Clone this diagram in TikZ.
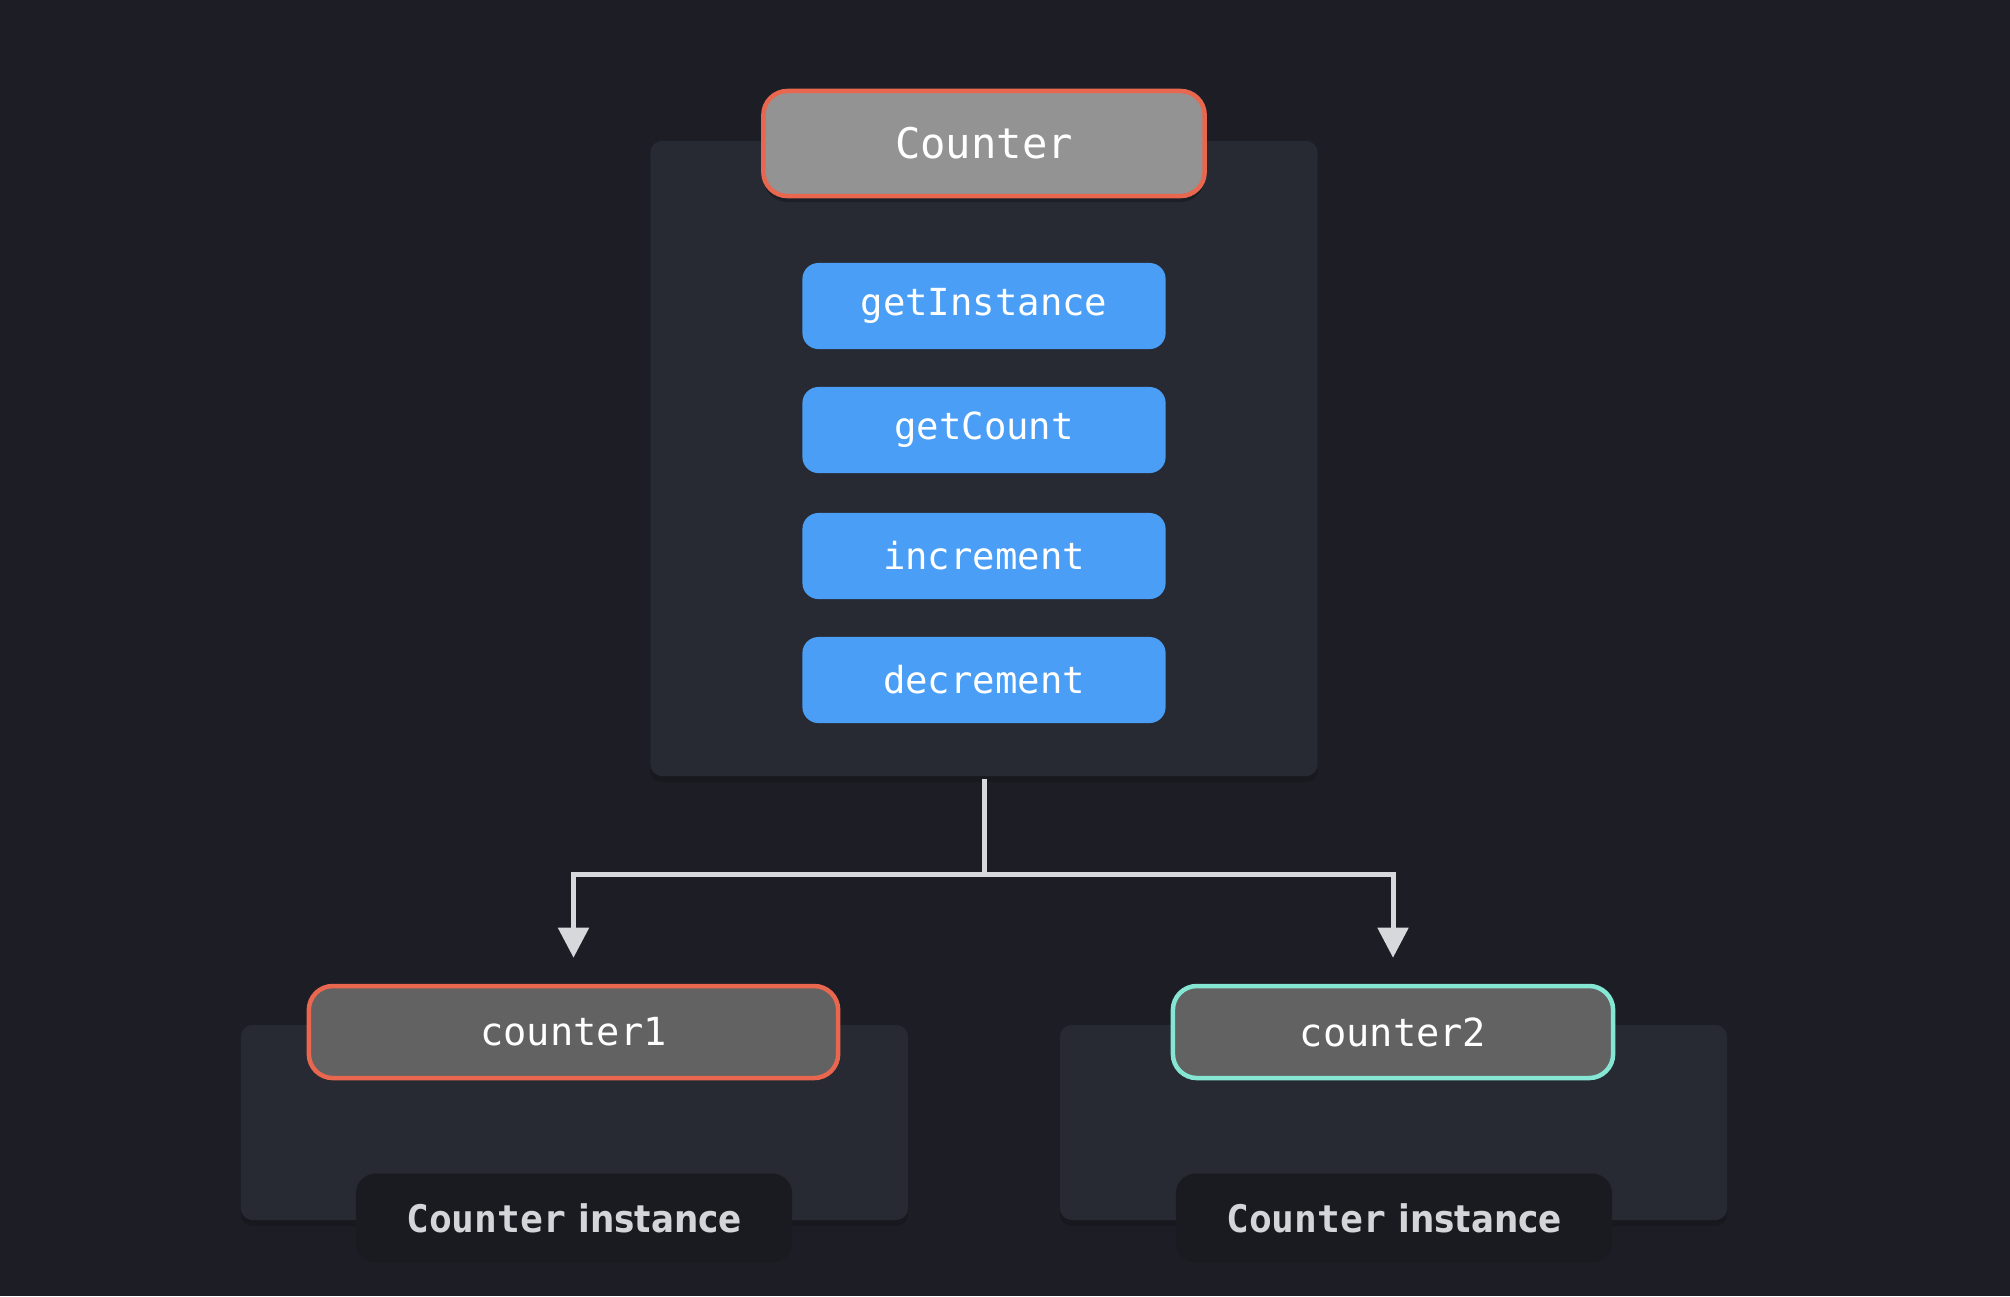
\documentclass[tikz,border=0pt]{standalone}
\usepackage{fontspec}
\setmainfont{DejaVu Sans}
\setmonofont{DejaVu Sans Mono}
\newfontfamily\condfont{DejaVu Sans Condensed}
\usetikzlibrary{arrows.meta,shadows}
\definecolor{bg}{HTML}{1D1E25}
\definecolor{panelc}{HTML}{272A33}
\definecolor{lblbg}{HTML}{1A1B21}
\definecolor{bluec}{HTML}{4A9EF5}
\definecolor{grayA}{HTML}{939393}
\definecolor{grayB}{HTML}{626262}
\definecolor{redc}{HTML}{E9674F}
\definecolor{tealc}{HTML}{85E6D4}
\definecolor{linec}{HTML}{D6D8DC}
\definecolor{txtc}{HTML}{D4D5D9}
\tikzset{
  panel/.style={fill=panelc, rounded corners=1.2mm, inner sep=0pt,
    drop shadow={shadow xshift=0mm, shadow yshift=-0.6mm, opacity=0.15, fill=black}},
  lbl/.style={fill=lblbg, rounded corners=2mm, inner sep=0pt, text=txtc,
    minimum width=43.6mm, minimum height=8.9mm,
    font=\fontsize{10.8pt}{12pt}\selectfont},
  method/.style={fill=bluec, rounded corners=1.6mm, inner sep=0pt, text=white,
    minimum width=36.3mm, minimum height=8.6mm,
    font=\ttfamily\fontsize{10.6pt}{12pt}\selectfont},
  classbox/.style={fill=grayA, draw=redc, line width=0.45mm, rounded corners=2.4mm,
    inner sep=0pt, text=white, minimum width=44.1mm, minimum height=10.5mm,
    font=\ttfamily\fontsize{12pt}{14pt}\selectfont,
    drop shadow={shadow xshift=0mm, shadow yshift=-0.6mm, opacity=0.25, fill=black}},
  instbox/.style={fill=grayB, line width=0.45mm, rounded corners=2.4mm,
    inner sep=0pt, text=white, minimum height=9.2mm,
    font=\ttfamily\fontsize{11pt}{13pt}\selectfont},
  conn/.style={draw=linec, line width=0.5mm},
}
\begin{document}
\begin{tikzpicture}[x=0.01cm, y=-0.01cm]
\fill[bg] (0,0) rectangle (2010,1296);
\useasboundingbox (0,0) rectangle (2010,1296);

% main class panel
\node[panel, minimum width=66.7mm, minimum height=63.5mm] (panel) at (984,458.5) {};
\node[classbox] (counter) at (984,143.5) {Counter};
\node[method] (m1) at (984,306) {getInstance};
\node[method] (m2) at (984,430) {getCount};
\node[method] (m3) at (984,556) {increment};
\node[method] (m4) at (984,680) {decrement};

% instance panels
\node[panel, minimum width=66.7mm, minimum height=19.5mm] (p1) at (574.5,1122.5) {};
\node[panel, minimum width=66.7mm, minimum height=19.5mm] (p2) at (1393.5,1122.5) {};

\node[instbox, draw=redc, minimum width=52.9mm] (c1) at (573.5,1032) {counter1};
\node[instbox, draw=tealc, minimum width=44.0mm] (c2) at (1393,1032) {counter2};

\node[lbl] (l1) at (574,1218) {{\ttfamily\bfseries Counter} {\condfont\bfseries instance}};
\node[lbl] (l2) at (1394,1218) {{\ttfamily\bfseries Counter} {\condfont\bfseries instance}};

% connectors
\coordinate (j) at (984,874);
\draw[conn] ([yshift=-0.2mm]panel.south) -- (j);
\draw[conn, -{Triangle[width=3.0mm,length=3.0mm]}, shorten >=2.6mm] (j) -| (c1.north);
\draw[conn, -{Triangle[width=3.0mm,length=3.0mm]}, shorten >=2.6mm] (j) -| (c2.north);
\end{tikzpicture}
\end{document}
